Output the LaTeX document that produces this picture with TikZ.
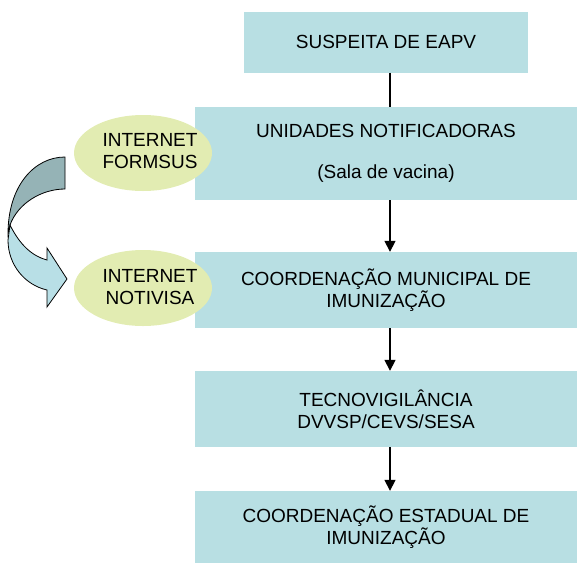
\documentclass[tikz,border=0pt]{standalone}
\usepackage{fontspec}
\setmainfont{Liberation Sans}
\usetikzlibrary{shapes.geometric,arrows.meta}
\definecolor{boxblue}{HTML}{B8DFE3}
\definecolor{ellgreen}{HTML}{E2ECB2}
\definecolor{arrdark}{HTML}{95B3B6}
\definecolor{arrlight}{HTML}{B8DFE6}
\tikzset{
  flowbox/.style={rectangle, fill=boxblue, inner sep=0pt, align=center, font=\fontsize{19}{22}\selectfont},
  ellnode/.style={ellipse, fill=ellgreen, inner sep=0pt, minimum width=138pt, minimum height=76pt},
  elltext/.style={align=center, inner sep=0pt, font=\fontsize{19}{22}\selectfont},
  conn/.style={line width=1.6pt, black},
  connarrow/.style={conn, -{Triangle[width=11pt,length=11pt]}},
}
\begin{document}
\begin{tikzpicture}[x=1pt,y=-1pt]
\useasboundingbox (0,0) rectangle (577,563);
% boxes
\node[flowbox, minimum width=284pt, minimum height=61pt] (b1) at (386,42) {SUSPEITA DE EAPV};
\node[flowbox, minimum width=382pt, minimum height=93pt] (b2) at (386,153.5) {UNIDADES NOTIFICADORAS\\[19pt](Sala de vacina)};
\node[flowbox, minimum width=382pt, minimum height=76pt] (b3) at (386,290) {COORDENAÇÃO MUNICIPAL DE\\IMUNIZAÇÃO};
\node[flowbox, minimum width=382pt, minimum height=76pt] (b4) at (386,409) {TECNOVIGILÂNCIA\\DVVSP/CEVS/SESA};
\node[flowbox, minimum width=382pt, minimum height=72pt] (b5) at (386,527) {COORDENAÇÃO ESTADUAL DE\\IMUNIZAÇÃO};
% ellipses
\node[ellnode] (e1) at (143,153) {};
\node[elltext] (e1t) at (150,151) {INTERNET\\FORMSUS};
\node[ellnode] (e2) at (143,288) {};
\node[elltext] (e2t) at (150,287) {INTERNET\\NOTIVISA};
% curved arrow
\fill[arrdark, draw=black, line width=0.8pt] (65,157) -- (65,189) .. controls (42,189) and (18,203) .. (10,225) -- (8,234) .. controls (8,185) and (35,157) .. (65,157) -- cycle;
\fill[arrlight, draw=black, line width=0.8pt] (10,225) .. controls (20,245) and (32,256) .. (47,260) -- (47,248) -- (67,279) -- (47,307) -- (47,290) .. controls (25,285) and (8,265) .. (8,240) -- cycle;
% connectors
\coordinate (cx) at (390,0);
\draw[conn] (b1.south -| cx) -- (b2.north -| cx);
\draw[connarrow] (b2.south -| cx) -- (b3.north -| cx);
\draw[connarrow] (b3.south -| cx) -- (b4.north -| cx);
\draw[connarrow] (b4.south -| cx) -- (b5.north -| cx);
\end{tikzpicture}
\end{document}
